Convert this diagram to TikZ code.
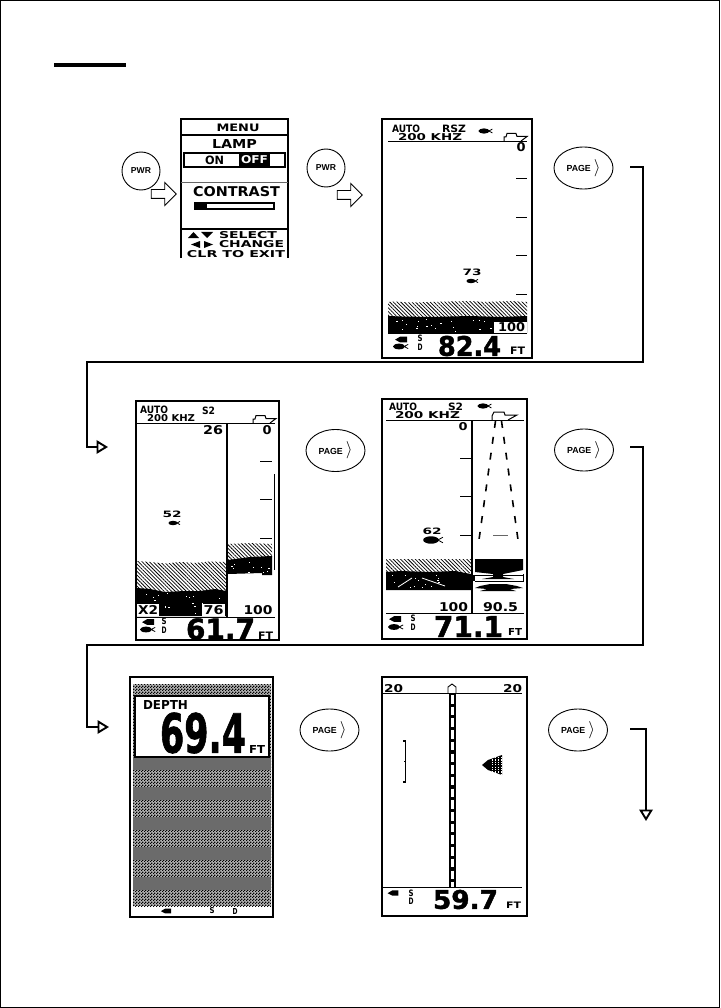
\documentclass[tikz,border=0pt]{standalone}
\usepackage{graphicx}
\usepackage{fontspec}
\setmainfont{Liberation Sans}
\newfontfamily\lcdfont{DejaVu Sans}
\newfontfamily\lcdheavy{DejaVu Sans}[UprightFont=* Bold,FakeBold=1.6]
\usetikzlibrary{arrows.meta,calc,patterns,patterns.meta,shapes.geometric,shapes.arrows}
\pgfdeclarepatternformonly{lcdcheck}{\pgfqpoint{0pt}{0pt}}{\pgfqpoint{2.6pt}{2.6pt}}{\pgfqpoint{2.6pt}{2.6pt}}{%
  \pgfpathrectangle{\pgfqpoint{0pt}{0pt}}{\pgfqpoint{1.3pt}{1.3pt}}%
  \pgfpathrectangle{\pgfqpoint{1.3pt}{1.3pt}}{\pgfqpoint{1.3pt}{1.3pt}}%
  \pgfusepath{fill}}
\newcommand{\lcdt}[3]{\resizebox{#1pt}{#2pt}{\lcdfont\bfseries #3}}
\newcommand{\lcdh}[3]{\resizebox{#1pt}{#2pt}{\lcdheavy #3}}
\newcommand{\specks}[5]{% x0 y0 w h n
  \foreach \i in {1,...,#5}{%
    \pgfmathsetmacro{\spx}{#1+rnd*#3}\pgfmathsetmacro{\spy}{#2+rnd*#4}%
    \fill[white] (\spx,\spy) rectangle ++(1.3,.8);}}
\tikzset{
  screen/.style={draw,line width=2pt,rectangle,inner sep=0pt,outer sep=0pt,fill=white},
  lcd/.style={inner sep=0pt,outer sep=0pt},
  pwrbtn/.style={draw,circle,line width=.9pt,minimum size=38pt,inner sep=0pt,font=\fontsize{8.6}{9}\selectfont\bfseries},
  pagebtn/.style={draw,ellipse,line width=.9pt,minimum width=59pt,minimum height=42pt,inner sep=0pt,font=\fontsize{8.8}{9}\selectfont\bfseries},
  blockarrow/.style={draw,single arrow,line width=.9pt,minimum height=25pt,inner sep=4pt,single arrow head extend=7pt,fill=white},
  tipconn/.style={line width=1.5pt,-{Triangle[open,length=11.5pt,width=13.5pt,line width=1.9pt]}},
  hatchfill/.style={pattern={Lines[angle=-45,distance=2.6pt,line width=.75pt]}},
  rule/.style={line width=.9pt},
  fishpic/.pic={\fill (0,0) ellipse (4.6 and 2.2);\draw[line width=.8pt] (7,-1.6)--(4,0)--(7,1.6);},
  boatpic/.pic={\draw[line width=1pt] (0,0)--(0,-4)--(2,-4)--(3,-7.5)--(12,-7.5)--(13,-4.5)--(23,-4.5)--(17,0);},
  speakerpic/.pic={\fill (-6,0.2)--(-1,-2.8)--(6,-2.8)--(6,2.8)--(-1,2.8)--cycle;},
}
\newcommand{\pagelabel}{PAGE\,\,{\fontsize{17}{17}\selectfont\raisebox{-.6pt}{$\rangle$}}}
\begin{document}
\begin{tikzpicture}[x=1pt,y=-1pt]
\useasboundingbox (0,0) rectangle (720,1008);
\fill[white] (0,0) rectangle (720,1008);
\draw[line width=1.6pt] (0.5,0.5) rectangle (719.5,1007.5);
\fill (54,63) rectangle (126,67);

%% ---------- connectors
\coordinate (c1a) at (630,167); \coordinate (c1b) at (643,362); \coordinate (c1c) at (87,447); \coordinate (c1d) at (108,447);
\draw[tipconn] (c1a) -| (c1b) -| (c1c) -- (c1d);
\coordinate (c2a) at (630,447); \coordinate (c2b) at (643,645); \coordinate (c2c) at (87,727); \coordinate (c2d) at (109,727);
\draw[tipconn] (c2a) -| (c2b) -| (c2c) -- (c2d);
\coordinate (c3a) at (630,729); \coordinate (c3b) at (646,821);
\draw[tipconn] (c3a) -| (c3b);

%% ---------- buttons
\node[pwrbtn] (pwrA) at (141,171) {PWR};
\node[pwrbtn] (pwrB) at (326,168) {PWR};
\node[blockarrow] (arrA) at (161.5,194) {};
\node[blockarrow] (arrB) at (347.5,195) {};
\node[pagebtn] (pageA) at (583.5,168) {\pagelabel};
\node[pagebtn] (pageB) at (335.5,450.5) {\pagelabel};
\node[pagebtn] (pageC) at (584,450) {\pagelabel};
\node[pagebtn] (pageD) at (329.5,730) {\pagelabel};
\node[pagebtn] (pageE) at (578,730) {\pagelabel};

%% ---------- MENU screen
\node[lcd,minimum width=107pt,minimum height=139pt] (menu) at (234.5,188.5) {};
\draw[line width=2pt] (menu.south west) |- (menu.north east) -- (menu.south east);
\draw[line width=2pt] (181,135)--(288,135);
\node[lcd] (tMenu) at (238,128) {\lcdt{43}{7.5}{MENU}};
\node[lcd] (tLamp) at (234.5,144.5) {\lcdt{45}{9}{LAMP}};
\node[draw,line width=1.4pt,minimum width=101pt,minimum height=14pt,inner sep=0pt] (lampbox) at (234.5,160) {};
\node[lcd] (tOn) at (214.5,160.5) {\lcdt{19}{8.5}{ON}};
\fill (239,154) rectangle (270,166);
\node[lcd,text=white] (tOff) at (254.5,160) {\lcdt{27}{8}{OFF}};
\draw[line width=.8pt,black!60] (181,182)--(288,182);
\node[lcd] (tContrast) at (236.5,191.5) {\lcdt{87}{10}{CONTRAST}};
\draw[line width=1.2pt] (195,203) rectangle (274,209);
\fill (195,203) rectangle (207,209);
\draw[line width=1.4pt] (181,229)--(288,229);
\fill (188,238)--(193.5,232)--(199,238)--cycle;
\fill (201,232)--(213,232)--(207,238)--cycle;
\fill (191,244.5)--(200,241)--(200,248)--cycle;
\fill (204,241)--(204,248)--(213,244.5)--cycle;
\node[lcd] (tSelect) at (248,235.5) {\lcdt{58}{7}{SELECT}};
\node[lcd] (tChange) at (251.5,244.5) {\lcdt{65}{7}{CHANGE}};
\node[lcd] (tClr) at (236,254.5) {\lcdt{98}{7}{CLR TO EXIT}};

%% ---------- Sonar screen 1
\node[screen,minimum width=150pt,minimum height=239pt] (scrA) at (457,238.5) {};
\node[lcd,anchor=west] (aAuto) at (392,129) {\lcdt{28}{7.5}{AUTO}};
\node[lcd,anchor=west] (aRsz) at (442,129) {\lcdt{24}{7.5}{RSZ}};
\node[lcd,anchor=west] (aKhz) at (398,137) {\lcdt{64}{7}{200 KHZ}};
\pic[scale=1.2] at (484,131) {fishpic};
\pic at (504,141) {boatpic};
\draw[rule] (388,141)--(527,141);
\node[lcd] (aZero) at (521,147) {\lcdt{9}{9}{0}};
\foreach \yy in {178,217,255,294} \draw[line width=.8pt] (516,\yy)--(527,\yy);
\node[lcd] (a73) at (472,272) {\lcdt{19}{6.5}{73}};
\pic at (471,281) {fishpic};
\fill[hatchfill] (388,302)--(396,301.5)--(410,302.5)--(430,302)--(470,301)--(485,302)--(510,301)--(527,302)--(527,317)--(388,317)--cycle;
\fill (388,316)--(402,316.5)--(430,317)--(470,316)--(500,317)--(527,316)--(527,333)--(388,333)--cycle;
\pgfmathsetseed{7}
\specks{390}{318}{102}{13}{20}
\fill[white] (494,322) rectangle (527,333);
\node[lcd] (a100) at (511.5,327.5) {\lcdt{27}{9}{100}};
\draw[rule] (388,333)--(527,333);
\pic at (401,339.5) {speakerpic};
\pic[scale=1.3] at (399,346.5) {fishpic};
\node[lcd] (aS) at (420,338) {\lcdt{5}{6.5}{S}};
\node[lcd] (aD) at (420,347) {\lcdt{5}{6.5}{D}};
\node[lcd,anchor=west] (aDepth) at (438,346) {\lcdh{63}{20}{82.4}};
\node[lcd,anchor=west] (aFt) at (510,351) {\lcdt{15}{7.5}{FT}};

%% ---------- Sonar screen 2 (zoom)
\node[screen,minimum width=143pt,minimum height=239pt] (scrB) at (207.5,520.5) {};
\node[lcd,anchor=west] (bAuto) at (140,410) {\lcdt{28}{7.5}{AUTO}};
\node[lcd,anchor=west] (bS) at (202,410.5) {\lcdt{13}{7.5}{S2}};
\node[lcd,anchor=west] (bKhz) at (147,418.5) {\lcdt{48}{7}{200 KHZ}};
\pic at (253,423) {boatpic};
\draw[rule] (137,423)--(275,423);
\draw[line width=1.4pt] (227,423)--(227,617);
\node[lcd] (b26) at (213,430) {\lcdt{20}{9}{26}};
\node[lcd] (bZero) at (267,430) {\lcdt{9}{9}{0}};
\foreach \yy in {461,499,538} \draw[line width=.8pt] (260,\yy)--(272,\yy);
\draw[line width=.8pt] (274,474)--(274,570);
\node[lcd] (b52) at (172,514) {\lcdt{19}{6.5}{52}};
\pic at (173,523) {fishpic};
\fill[hatchfill] (137,561)--(150,562)--(165,563.5)--(180,562)--(195,563)--(210,561.5)--(226,562)--(226,592)--(137,592)--cycle;
\fill (137,588)--(150,589)--(165,592)--(185,591)--(200,591)--(215,589)--(226,591)--(226,616)--(137,616)--cycle;
\pgfmathsetseed{11}
\specks{139}{592}{85}{22}{22}
\fill[white] (137,604) rectangle (159,616);
\node[lcd] (bX) at (148,610) {\lcdt{20}{9}{X2}};
\fill[white] (202,604) rectangle (225,616);
\node[lcd] (b76) at (213.5,610) {\lcdt{20}{9}{76}};
\fill[hatchfill] (228,544)--(250,543)--(272,544)--(272,558)--(228,560)--cycle;
\fill (228,560)--(250,557)--(272,556)--(272,575)--(262,575)--(262,573)--(228,574)--cycle;
\pgfmathsetseed{3}
\specks{230}{560}{40}{13}{10}
\node[lcd] (b100) at (258,610) {\lcdt{29}{9}{100}};
\draw[rule] (137,617)--(275,617);
\pic at (148,622) {speakerpic};
\pic[scale=1.3] at (146,629.5) {fishpic};
\node[lcd] (bSS) at (164,621) {\lcdt{5}{6.5}{S}};
\node[lcd] (bD) at (164,630) {\lcdt{5}{6.5}{D}};
\node[lcd,anchor=west] (bDepth) at (186,629) {\lcdh{69}{21}{61.7}};
\node[lcd,anchor=west] (bFt) at (258,635.5) {\lcdt{15}{7.5}{FT}};

%% ---------- Sonar screen 3 (beam)
\node[screen,minimum width=145pt,minimum height=240pt] (scrC) at (454.5,519) {};
\node[lcd,anchor=west] (cAuto) at (389,407) {\lcdt{28}{7.5}{AUTO}};
\node[lcd,anchor=west] (cS) at (448,407) {\lcdt{15}{7.5}{S2}};
\node[lcd,anchor=west] (cKhz) at (395,415) {\lcdt{65}{7}{200 KHZ}};
\pic[scale=1.2] at (483,406) {fishpic};
\draw[line width=1pt] (492,420)--(492,416)--(494,412)--(504,412)--(505,415)--(517,415)--(508,420);
\draw[rule] (386,420)--(524,420);
\draw[line width=1.4pt] (472,420)--(472,613);
\node[lcd] (cZero) at (463,427) {\lcdt{9}{8}{0}};
\foreach \yy in {458,496,535} \draw[line width=.8pt] (460,\yy)--(471,\yy);
\draw[line width=1.6pt,dash pattern=on 7pt off 9pt] (495.5,421)--(478,547);
\draw[line width=1.6pt,dash pattern=on 7pt off 9pt] (501.5,421)--(519,547);
\draw[line width=.5pt,black!60] (493,535)--(508,535);
\node[lcd] (c62) at (432,531) {\lcdt{19}{6.5}{62}};
\pic[scale=1.7] at (431,540) {fishpic};
\fill[hatchfill] (386,559) rectangle (471,572);
\fill (386,572)--(400,571)--(430,572)--(455,571)--(471,574)--(471,590)--(386,590)--cycle;
\pgfmathsetseed{5}
\specks{388}{574}{70}{14}{14}
\draw[line width=.8pt,white] (398,587)--(412,578);
\draw[line width=.8pt,white] (422,578)--(445,586);
\fill (475,559)--(523,559)--(523,570)--(503,574)--(503,577)--(514,579)--(482,579)--(493,577)--(493,574)--(475,572)--cycle;
\draw[line width=.7pt] (475,575)--(523,575);
\draw[line width=.7pt] (475,581)--(523,581);
\draw[line width=.9pt] (523.5,574)--(523.5,582);
\fill (473,575) rectangle (475,581);
\fill (480,586)--(490,584)--(506,584)--(517,586)--(523,588)--(510,589)--(516,591)--(480,591)--(487,589)--(475,588)--cycle;
\node[lcd] (c100) at (453.5,607) {\lcdt{29}{9}{100}};
\node[lcd] (c905) at (500.5,607) {\lcdt{35}{9}{90.5}};
\draw[rule] (386,613)--(524,613);
\pic at (395,619) {speakerpic};
\pic[scale=1.3] at (394,627) {fishpic};
\node[lcd] (cSS) at (413,618) {\lcdt{5}{6.5}{S}};
\node[lcd] (cD) at (413,627) {\lcdt{5}{6.5}{D}};
\node[lcd,anchor=west] (cDepth) at (434,626.5) {\lcdh{69}{21}{71.1}};
\node[lcd,anchor=west] (cFt) at (508,631.5) {\lcdt{14}{7}{FT}};

%% ---------- Digital depth screen
\node[screen,minimum width=143pt,minimum height=240pt] (scrD) at (201.5,797) {};
\fill[black!30] (133,684) rectangle (271,906);
\fill[pattern=lcdcheck] (133,684) rectangle (271,906);
\foreach \k in {0,...,4} \fill[black!58] (133,{757+30*\k}) rectangle (271,{770+30*\k});
\node[draw,line width=1.2pt,fill=white,minimum width=134pt,minimum height=61pt,inner sep=0pt] (depthbox) at (202,726.5) {};
\node[lcd,anchor=west] (dLabel) at (143,704.5) {\lcdt{45}{9}{DEPTH}};
\node[lcd,anchor=west] (dDepth) at (160,733) {\lcdh{86}{40}{69.4}};
\node[lcd,anchor=west] (dFt) at (249,749) {\lcdt{16}{8}{FT}};
\pic[scale=.85] at (166,911) {speakerpic};
\node[lcd] (dS) at (212,911) {\lcdt{5}{6}{S}};
\node[lcd] (dD) at (235,911) {\lcdt{5}{6}{D}};

%% ---------- Navigation screen
\node[screen,minimum width=145pt,minimum height=239pt] (scrE) at (454.5,796.5) {};
\node[lcd] (eL) at (393.5,689) {\lcdt{19}{8}{20}};
\node[lcd] (eR) at (512.5,689) {\lcdt{19}{8}{20}};
\draw[rule] (383,693.5)--(522,693.5);
\fill[black] (449,693) rectangle (456,887);
\draw[white,line width=2.8pt,dash pattern=on 8.5pt off 3.2pt] (452.5,695)--(452.5,887);
\draw[line width=.9pt,fill=white] (448,693.5)--(448,687)--(452,684)--(456,687)--(456,693.5)--cycle;
\draw[line width=1.1pt] (403,741)--(405.5,741)--(405.5,782)--(403,782);
\draw[line width=.8pt] (405.5,761)--(404,761);
\fill (482,765)--(488,760)--(502,755)--(502,775)--(488,770)--cycle;
\foreach \xx in {492,495,498,501} \draw[white,line width=.6pt,dash pattern=on 1.2pt off 1.2pt] (\xx,757)--(\xx,774);
\draw[rule] (383,887)--(522,887);
\pic[scale=.9] at (393,893) {speakerpic};
\node[lcd] (eS) at (411,893) {\lcdt{5}{6.5}{S}};
\node[lcd] (eD) at (411,901) {\lcdt{5}{6.5}{D}};
\node[lcd,anchor=west] (eDepth) at (433,899.5) {\lcdh{65}{19}{59.7}};
\node[lcd,anchor=west] (eFt) at (506,905) {\lcdt{15}{6.5}{FT}};
\end{tikzpicture}
\end{document}
